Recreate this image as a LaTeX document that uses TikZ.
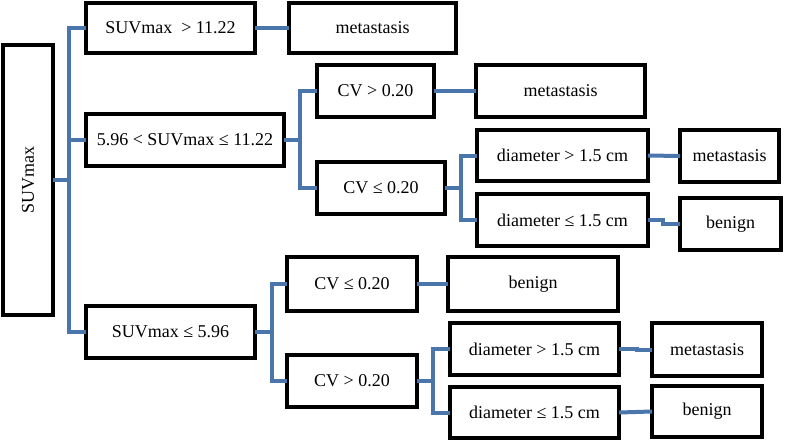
\documentclass[tikz,border=0pt]{standalone}
\usepackage{fontspec}
\setmainfont{Liberation Serif}
\definecolor{connblue}{RGB}{74,118,172}
\tikzset{
  box/.style={draw=black, line width=3.2pt, fill=white, inner sep=0pt, outer sep=0pt, font=\fontsize{13.5}{16}\selectfont},
  conn/.style={draw=connblue, line width=3pt},
}
\newcommand\bx[6]{\node[box, minimum width={(#4-#2)*0.75pt}, minimum height={(#5-#3)*0.75pt}] (#1) at ({(#2+#4)/2},{(#3+#5)/2}) {#6};}
\begin{document}
\begin{tikzpicture}[x=0.75pt,y=-0.75pt]
\useasboundingbox (0,0) rectangle (785,440);
% level 0
\bx{root}{3}{45}{53}{315}{\rotatebox{90}{SUVmax}}
% level 1
\bx{A}{86}{3}{255}{53}{SUVmax\ \ > 11.22}
\bx{B}{86}{114}{284}{166}{5.96 < SUVmax ≤ 11.22}
\bx{C}{86}{306}{255}{358}{SUVmax ≤ 5.96}
% level 2
\bx{Am}{289}{3}{456}{53}{metastasis}
\bx{Bh}{317}{65}{434}{117}{CV > 0.20}
\bx{Bl}{317}{162}{445}{214}{CV ≤ 0.20}
\bx{Cl}{287}{257}{417}{311}{CV ≤ 0.20}
\bx{Ch}{287}{355}{417}{407}{CV > 0.20}
% level 3
\bx{Bhm}{476}{65}{645}{117}{metastasis}
\bx{Bld1}{477}{130}{648}{181}{diameter > 1.5 cm}
\bx{Bld2}{477}{194}{648}{246}{diameter ≤ 1.5 cm}
\bx{Clb}{448}{257}{618}{311}{benign}
\bx{Chd1}{450}{323}{619}{375}{diameter > 1.5 cm}
\bx{Chd2}{450}{387}{619}{438}{diameter ≤ 1.5 cm}
% level 4
\bx{Bld1m}{680}{130}{779}{182}{metastasis}
\bx{Bld2b}{680}{198}{781}{250}{benign}
\bx{Chd1m}{652}{323}{762}{376}{metastasis}
\bx{Chd2b}{652}{386}{762}{437}{benign}
% junctions
\coordinate (t0) at (69,180);
\coordinate (tB) at (300,140);
\coordinate (tBl) at (461,188);
\coordinate (tC) at (272,332);
\coordinate (tCh) at (433,381);
\coordinate (j1) at (663,0);
\coordinate (j2) at (637,0);
% connectors
\draw[conn] (root.east) -- (t0);
\draw[conn] (t0) |- (A.west);
\draw[conn] (t0) |- (B.west);
\draw[conn] (t0) |- (C.west);
\draw[conn] (A.east) -- (Am.west);
\draw[conn] (B.east) -- (tB);
\draw[conn] (tB) |- (Bh.west);
\draw[conn] (tB) |- (Bl.west);
\draw[conn] (Bh.east) -- (Bhm.west);
\draw[conn] (Bl.east) -- (tBl);
\draw[conn] (tBl) |- (Bld1.west);
\draw[conn] (tBl) |- (Bld2.west);
\draw[conn] (Bld1.east) -- (Bld1m.west);
\draw[conn] (Bld2.east) -- (Bld2.east -| j1) |- (Bld2b.west);
\draw[conn] (C.east) -- (tC);
\draw[conn] (tC) |- (Cl.west);
\draw[conn] (tC) |- (Ch.west);
\draw[conn] (Cl.east) -- (Clb.west);
\draw[conn] (Ch.east) -- (tCh);
\draw[conn] (tCh) |- (Chd1.west);
\draw[conn] (tCh) |- (Chd2.west);
\draw[conn] (Chd1.east) -- (Chd1.east -| j2) |- (Chd1m.west);
\draw[conn] (Chd2.east) -- (Chd2b.west);
\end{tikzpicture}
\end{document}
